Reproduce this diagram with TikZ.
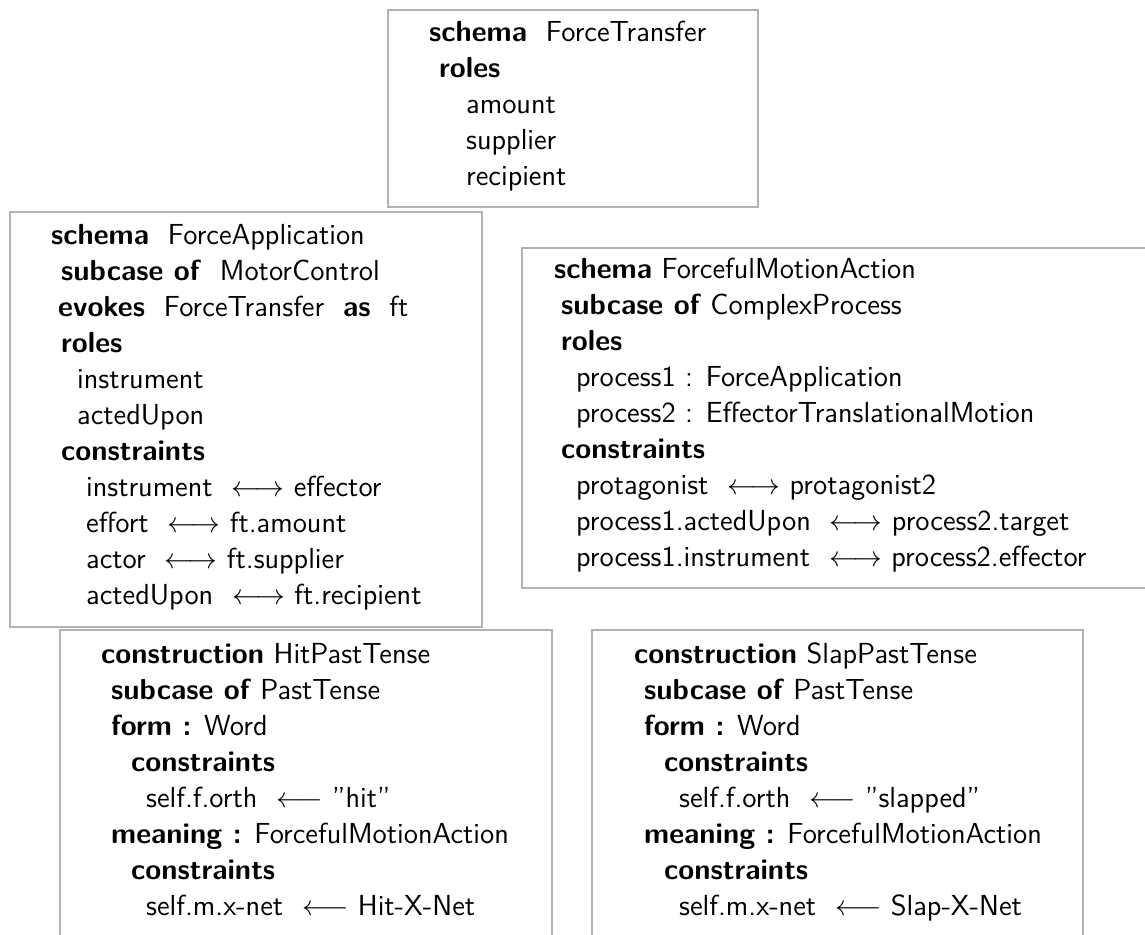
\documentclass[tikz,border=0pt]{standalone}
\usepackage{tikz}
\usetikzlibrary{fit}
\tikzstyle{schemabox} = [rectangle, draw=gray!60, line width=1.2pt, inner sep=0pt]
\tikzstyle{schematext} = [anchor=base west, inner sep=0pt, align=left,
font=\sffamily\fontsize{14.5}{18}\selectfont]
\newcommand{\kw}[1]{\textbf{#1}}

\begin{document}
\begin{tikzpicture}[x=0.5pt, y=-0.5pt]
    \useasboundingbox (0,0) rectangle (1145,934);
    \clip (0,0) rectangle (1145,934);

    % the frames
    \node (ftbox) [schemabox, fit={(388,10) (758,207)}] {};
    \node (fabox) [schemabox, fit={(10,212) (482,627)}] {};
    \node (fmabox) [schemabox, fit={(522,248) (1170,588)}] {};
    \node (hitbox) [schemabox, fit={(60,630) (552,960)}] {};
    \node (slapbox) [schemabox, fit={(592,630) (1083,960)}] {};

    \node (fttext) [schematext] at ([shift={(42,33)}]ftbox.north west)
    {
      \begin{tabular}[t]{@{}l@{}}
        \kw{schema}\ \ ForceTransfer \\
        \hspace*{5pt}\kw{roles} \\
        \hspace*{18.5pt}amount \\
        \hspace*{18.5pt}supplier \\
        \hspace*{18.5pt}recipient
      \end{tabular}
    };
    \node (fatext) [schematext] at ([shift={(42,34)}]fabox.north west)
    {
      \begin{tabular}[t]{@{}l@{}}
        \kw{schema}\ \ ForceApplication \\
        \hspace*{5pt}\kw{subcase of}\ \ MotorControl \\
        \hspace*{3.5pt}\kw{evokes}\ \ ForceTransfer\ \ \kw{as}\ \ ft \\
        \hspace*{5pt}\kw{roles} \\
        \hspace*{13pt}instrument \\
        \hspace*{13pt}actedUpon \\
        \hspace*{5pt}\kw{constraints} \\
        \hspace*{17.5pt}instrument\ \ $\longleftrightarrow$ effector \\
        \hspace*{17.5pt}effort\ \ $\longleftrightarrow$ ft.amount \\
        \hspace*{17.5pt}actor\ \ $\longleftrightarrow$ ft.supplier \\
        \hspace*{17.5pt}actedUpon\ \ $\longleftrightarrow$ ft.recipient
      \end{tabular}
    };
    \node (fmatext) [schematext] at ([shift={(33,32)}]fmabox.north west)
    {
      \begin{tabular}[t]{@{}l@{}}
        \kw{schema} ForcefulMotionAction \\
        \hspace*{3.5pt}\kw{subcase of} ComplexProcess \\
        \hspace*{3.5pt}\kw{roles} \\
        \hspace*{11pt}process1 : ForceApplication \\
        \hspace*{11pt}process2 : EffectorTranslationalMotion \\
        \hspace*{3.5pt}\kw{constraints} \\
        \hspace*{11pt}protagonist\ \ $\longleftrightarrow$ protagonist2 \\
        \hspace*{11pt}process1.actedUpon\ \ $\longleftrightarrow$ process2.target \\
        \hspace*{11pt}process1.instrument\ \ $\longleftrightarrow$ process2.effector
      \end{tabular}
    };
    \node (hittext) [schematext] at ([shift={(42,35)}]hitbox.north west)
    {
      \begin{tabular}[t]{@{}l@{}}
        \kw{construction} HitPastTense \\
        \hspace*{5pt}\kw{subcase of} PastTense \\
        \hspace*{5pt}\kw{form :} Word \\
        \hspace*{15pt}\kw{constraints} \\
        \hspace*{22.5pt}self.f.orth\ \ $\longleftarrow$ ''hit'' \\
        \hspace*{5pt}\kw{meaning :} ForcefulMotionAction \\
        \hspace*{15pt}\kw{constraints} \\
        \hspace*{22.5pt}self.m.x-net\ \ $\longleftarrow$ Hit-X-Net
      \end{tabular}
    };
    \node (slaptext) [schematext] at ([shift={(43,35)}]slapbox.north west)
    {
      \begin{tabular}[t]{@{}l@{}}
        \kw{construction} SlapPastTense \\
        \hspace*{5pt}\kw{subcase of} PastTense \\
        \hspace*{5pt}\kw{form :} Word \\
        \hspace*{15pt}\kw{constraints} \\
        \hspace*{22.5pt}self.f.orth\ \ $\longleftarrow$ ''slapped'' \\
        \hspace*{5pt}\kw{meaning :} ForcefulMotionAction \\
        \hspace*{15pt}\kw{constraints} \\
        \hspace*{22.5pt}self.m.x-net\ \ $\longleftarrow$ Slap-X-Net
      \end{tabular}
    };
\end{tikzpicture}
\end{document}
